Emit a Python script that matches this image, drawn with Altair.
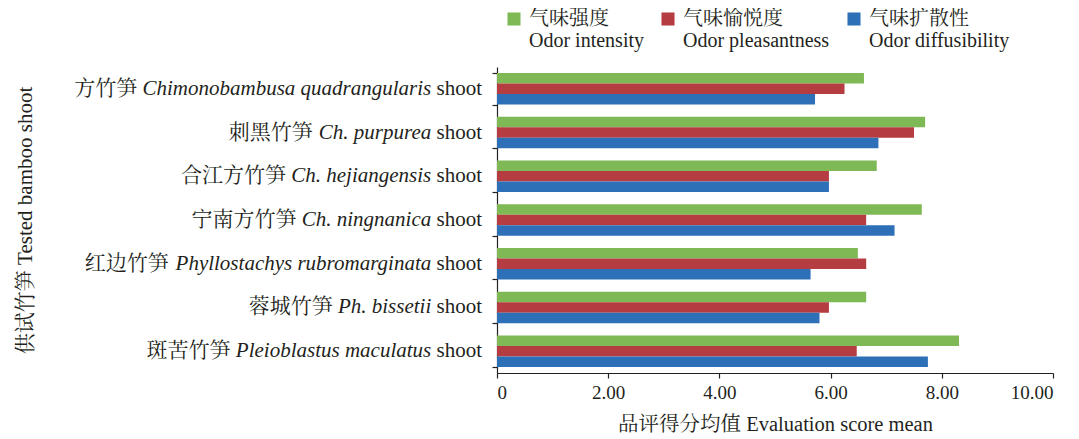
import altair as alt
import pandas as pd

# ---- data ----
species_cn = ["方竹笋", "刺黑竹笋", "合江方竹笋", "宁南方竹笋", "红边竹笋", "蓉城竹笋", "斑苦竹笋"]
species_latin = ["Chimonobambusa quadrangularis", "Ch. purpurea", "Ch. hejiangensis",
                 "Ch. ningnanica", "Phyllostachys rubromarginata", "Ph. bissetii",
                 "Pleioblastus maculatus"]
suffix_word = "shoot"
series_cn = ["气味强度", "气味愉悦度", "气味扩散性"]
series_en = ["Odor intensity", "Odor pleasantness", "Odor diffusibility"]
intensity = [6.60, 7.70, 6.83, 7.64, 6.49, 6.64, 8.31]
pleasantness = [6.25, 7.50, 5.97, 6.64, 6.64, 5.97, 6.47]
diffusibility = [5.72, 6.86, 5.97, 7.15, 5.64, 5.80, 7.75]
colors = ["#7FB955", "#B53C40", "#2D70B8"]
x_ticks = [0, 2, 4, 6, 8, 10]
x_title = "品评得分均值 Evaluation score mean"
y_title = "供试竹笋 Tested bamboo shoot"

# ---- styling ----
FONT = "'Liberation Serif', 'Noto Serif CJK SC', 'Noto Sans CJK SC', serif"
TXT = "#231F20"
W, H = 556, 306
LBL = 21
GAP = 15

# Times italic / roman advance widths (per 1000 em) to place mixed-style labels
ITALIC = dict(zip("abcdefghijklmnopqrstuvwxyz",
                  [500, 500, 444, 500, 444, 278, 500, 500, 278, 278, 444, 278, 722,
                   500, 500, 500, 500, 389, 389, 278, 500, 444, 667, 444, 444, 389]))
ITALIC.update({"C": 667, "P": 611, " ": 250, ".": 250})
ROMAN = {"s": 389, "h": 500, "o": 500, "t": 278, " ": 250}


def width(s, table, fs):
    return sum(table.get(c, 500) for c in s) * fs / 1000.0


px2data = 10.0 / W
series_keys = [c + "|" + e for c, e in zip(series_cn, series_en)]

rows = []
for i, sp in enumerate(species_cn):
    for key, vals in zip(series_keys, [intensity, pleasantness, diffusibility]):
        rows.append({"species": sp, "series": key, "value": vals[i]})
bars_df = pd.DataFrame(rows)

lab_rows = []
for sp, lat in zip(species_cn, species_latin):
    x_suffix = -GAP
    x_it = x_suffix - width(" " + suffix_word, ROMAN, LBL)
    x_cn = x_it - width(lat, ITALIC, LBL) - 0.25 * LBL
    lab_rows.append({"species": sp, "cn": sp, "it": lat, "sfx": suffix_word,
                     "x_cn": x_cn * px2data, "x_it": x_it * px2data,
                     "x_sfx": x_suffix * px2data})
lab_df = pd.DataFrame(lab_rows)

xscale = alt.Scale(domain=[0, 10], nice=False, zero=True)
yscale = alt.Scale(paddingInner=0.28, paddingOuter=0.14)
xaxis = alt.Axis(values=x_ticks, title=x_title, grid=False,
                 labelExpr="datum.value == 0 ? '0' : format(datum.value, '.2f')",
                 tickSize=5, labelPadding=5, titlePadding=12,
                 labelFontSize=19, titleFontSize=20.5)
yaxis = alt.Axis(labels=False, tickBand="extent", tickSize=5, title=y_title,
                 titlePadding=456, titleFontSize=21)

bars = alt.Chart(bars_df).mark_bar().encode(
    x=alt.X("value:Q", scale=xscale, axis=xaxis),
    y=alt.Y("species:N", sort=species_cn, scale=yscale, axis=yaxis),
    yOffset=alt.YOffset("series:N", sort=series_keys, scale=alt.Scale(paddingInner=0, paddingOuter=0)),
    color=alt.Color("series:N", sort=series_keys,
                    scale=alt.Scale(domain=series_keys, range=colors),
                    legend=alt.Legend(orient="none", direction="horizontal", title=None,
                                      legendX=7, legendY=-58,
                                      labelExpr="split(datum.label, '|')",
                                      symbolType="square", symbolSize=170,
                                      labelFontSize=20, labelFont=FONT, labelColor=TXT,
                                      labelLimit=400, labelOffset=5, columnPadding=14)),
)


def label_layer(text_field, x_field, style):
    return alt.Chart(lab_df).mark_text(
        align="right", baseline="middle", font=FONT, fontSize=LBL,
        fontStyle=style, color=TXT).encode(
        x=alt.X(x_field + ":Q", scale=xscale, axis=xaxis),
        y=alt.Y("species:N", sort=species_cn, scale=yscale, axis=yaxis),
        text=alt.Text(text_field + ":N"),
    )


chart = alt.layer(
    bars,
    label_layer("cn", "x_cn", "normal"),
    label_layer("it", "x_it", "italic"),
    label_layer("sfx", "x_sfx", "normal"),
).properties(
    width=W, height=H,
    autosize=alt.AutoSizeParams(type="none"),
    padding={"left": 489, "top": 59, "right": 18, "bottom": 66},
).configure_view(stroke=None).configure_axis(
    labelFont=FONT, titleFont=FONT, labelColor=TXT, titleColor=TXT,
    domainColor="#222", tickColor="#222", domainWidth=1.2, tickWidth=1.2,
    titleFontWeight="normal",
)

chart.save("out.html", embed_options={"renderer": "svg", "actions": False})
